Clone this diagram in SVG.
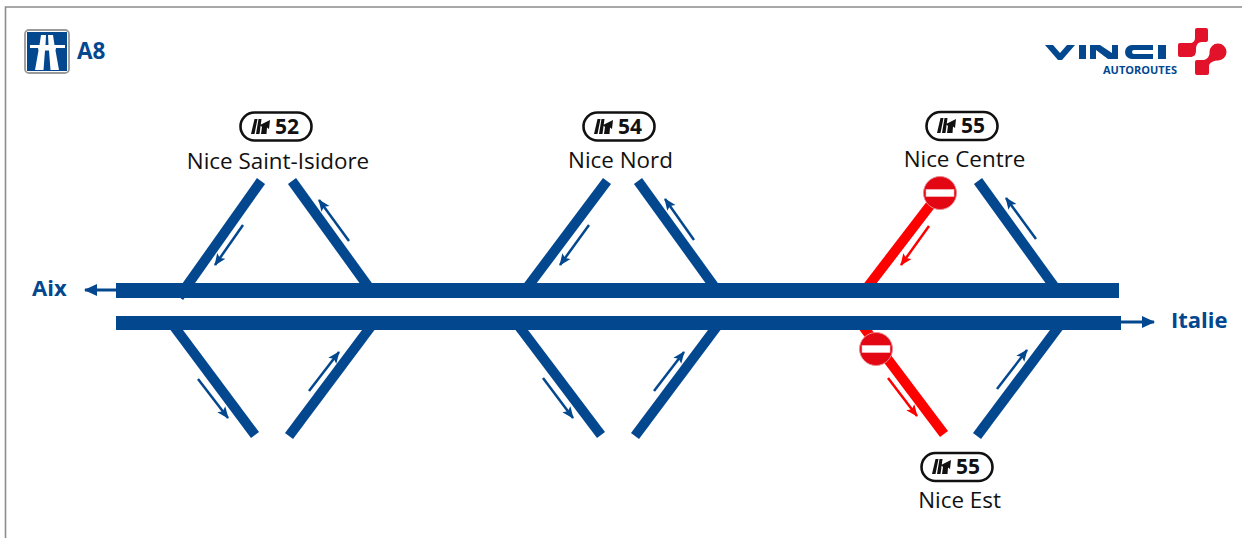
<svg xmlns="http://www.w3.org/2000/svg" width="1242" height="538" viewBox="0 0 1242 538">
<style>
.road{fill:#03478f}
.ramp{stroke:#03478f;stroke-width:10;fill:none}
.red{stroke:#ff0000;stroke-width:10;fill:none}
.ar{stroke:#03478f;stroke-width:2.5;fill:none;marker-end:url(#ab)}
.arr{stroke:#ff0000;stroke-width:2.5;fill:none;marker-end:url(#ar)}
.big{stroke:#03478f;stroke-width:3;fill:none;marker-end:url(#abig)}
.lbl{font-family:"Open Sans","Noto Sans",sans-serif;font-size:22.4px;fill:#111;text-anchor:middle}
.num{font-family:"Open Sans","Noto Sans",sans-serif;font-size:21px;font-weight:700;fill:#111}
.dir{font-family:"Open Sans","Noto Sans",sans-serif;font-size:22px;font-weight:700;fill:#03478f}
.badge{fill:#fff;stroke:#111;stroke-width:2.6}
</style>
<defs>
<marker id="ab" markerUnits="userSpaceOnUse" markerWidth="13" markerHeight="11" refX="11" refY="5.500" orient="auto"><path d="M0 0.500L12 5.500L0 10.500L2.500 5.500Z" fill="#03478f"/></marker>
<marker id="ar" markerUnits="userSpaceOnUse" markerWidth="13" markerHeight="11" refX="11" refY="5.500" orient="auto"><path d="M0 0.500L12 5.500L0 10.500L2.500 5.500Z" fill="#ff0000"/></marker>
<marker id="abig" markerUnits="userSpaceOnUse" markerWidth="14" markerHeight="14" refX="12" refY="7" orient="auto"><path d="M0 1L13 7L0 13Z" fill="#03478f"/></marker>
<g id="exit-icon"><path d="M3.500 0H6.500L3.500 15H0ZM7.500 0H10.500L8.500 15H5ZM10 15L11 8L9 6L19 1L18 10L16 8.500L15.500 15Z" fill="#111"/></g>
<g id="noentry"><circle r="16.500" fill="#e30613" stroke="#e98a90" stroke-width="1"/><rect x="-14" y="-3.600" width="28" height="7.200" fill="#fff" stroke="#f4b8bb" stroke-width="0.600"/></g>
</defs>
<rect width="1242" height="538" fill="#fff"/>
<path d="M5.500 538V7H1242" fill="none" stroke="#8c8c8c" stroke-width="1.600"/>
<g id="a8-logo">
<rect x="25" y="30" width="44" height="43" rx="4" fill="#fff" stroke="#9a9a9a" stroke-width="1.800"/>
<rect x="27" y="32" width="40" height="39" fill="#03478f"/>
<path d="M41 35H46L45.500 45H39.500ZM48 35H53L54.500 45H48.500ZM30 45H65V48H56L55.500 50.500H38.500L38 48H30ZM38.500 50.500H45L43.500 70H35ZM49 50.500H55.500L59 70H50.500Z" fill="#fff"/>
<text x="77" y="59" font-family="'Open Sans','Noto Sans',sans-serif" font-size="22.500" font-weight="700" fill="#03478f">A8</text>
</g>
<g id="vinci-logo">
<path d="M1045 45H1053L1060 53L1067 45H1075L1062 60H1058Z" fill="#03478f"/>
<rect x="1079" y="45" width="7" height="14" fill="#03478f"/>
<path d="M1090 59V45H1100L1112 53V45H1118V59H1108L1096 50V59Z" fill="#03478f"/>
<path d="M1153 45H1132a7 7 0 0 0 0 14H1153V54H1134a2 2 0 0 1 0-4H1153Z" fill="#03478f"/>
<rect x="1158" y="45" width="8" height="14" fill="#03478f"/>
<path d="M1197 28H1206a2 2 0 0 1 2 2V40a2 2 0 0 1-2 2H1202C1197 42 1196 46 1196 50C1196 55 1194 57 1190 57H1180a2 2 0 0 1-2-2V45a2 2 0 0 1 2-2H1190C1193 43 1195 41 1195 38V30a2 2 0 0 1 2-2Z" fill="#e1122a"/>
<circle cx="1218" cy="52" r="8.500" fill="#e1122a"/>
<path d="M1197 60H1203C1206 60 1209 58 1210 52L1218 60.500C1213 60.500 1209 63 1209 66V73a2 2 0 0 1-2 2H1197a2 2 0 0 1-2-2V62a2 2 0 0 1 2-2Z" fill="#e1122a"/>
<text x="1103" y="74" font-family="'Open Sans','Noto Sans',sans-serif" font-size="11" font-weight="700" fill="#03478f">AUTOROUTES</text>
</g>
<g id="connectors">
<path class="ramp" d="M261 181L179 297"/>
<path class="ramp" d="M292 181L370 289"/>
<path class="ramp" d="M607 181L526 289"/>
<path class="ramp" d="M638 181L716 289"/>
<path class="ramp" d="M978 181L1056 289"/>
<path class="ramp" d="M173 325L255 435"/>
<path class="ramp" d="M372 325L289 436"/>
<path class="ramp" d="M518 325L601 435"/>
<path class="ramp" d="M718 325L635 436"/>
<path class="ramp" d="M1060 325L977 436"/>
<path class="red" d="M935 199L866 289"/>
<path class="red" d="M862 325L944 434"/>
<path class="ar" d="M243 225L215 265"/>
<path class="ar" d="M349 241L319 200"/>
<path class="ar" d="M589 225L560 265"/>
<path class="ar" d="M694 240L665 199"/>
<path class="ar" d="M1036 239L1006 198"/>
<path class="ar" d="M198 379L228 418"/>
<path class="ar" d="M309 391L339 352"/>
<path class="ar" d="M543 378L573 418"/>
<path class="ar" d="M654 391L684 352"/>
<path class="ar" d="M997 389L1027 350"/>
<path class="arr" d="M929 226L901 265"/>
<path class="arr" d="M888 378L917 416"/>
<path class="big" d="M116 290H85"/>
<path class="big" d="M1121 322H1154"/>
</g>
<g id="road-north"><rect class="road" x="116" y="283" width="1003" height="15"/></g>
<g id="road-south"><rect class="road" x="116" y="316" width="1005" height="14"/></g>
<g id="noentry-north"><use href="#noentry" x="940" y="193"/></g>
<g id="noentry-south"><use href="#noentry" x="876" y="349"/></g>
<g id="label-aix"><text class="dir" x="32" y="296">Aix</text></g>
<g id="label-italie"><text class="dir" x="1171" y="328">Italie</text></g>
<g id="exit-52">
<rect class="badge" x="240.500" y="112.500" width="71" height="28" rx="14"/>
<use href="#exit-icon" x="251" y="119"/>
<text class="num" x="275" y="134">52</text>
<text class="lbl" x="278" y="169">Nice Saint-Isidore</text>
</g>
<g id="exit-54">
<rect class="badge" x="583.500" y="112.500" width="71" height="28" rx="14"/>
<use href="#exit-icon" x="594" y="119"/>
<text class="num" x="618" y="134">54</text>
<text class="lbl" x="620.500" y="168">Nice Nord</text>
</g>
<g id="exit-55-centre">
<rect class="badge" x="926.500" y="112" width="71" height="28" rx="14"/>
<use href="#exit-icon" x="937" y="118"/>
<text class="num" x="961" y="133">55</text>
<text class="lbl" x="964.500" y="167">Nice Centre</text>
</g>
<g id="exit-55-est">
<rect class="badge" x="921.500" y="453" width="71" height="28" rx="14"/>
<use href="#exit-icon" x="932" y="459"/>
<text class="num" x="956" y="474">55</text>
<text class="lbl" x="959.500" y="508">Nice Est</text>
</g>
</svg>
